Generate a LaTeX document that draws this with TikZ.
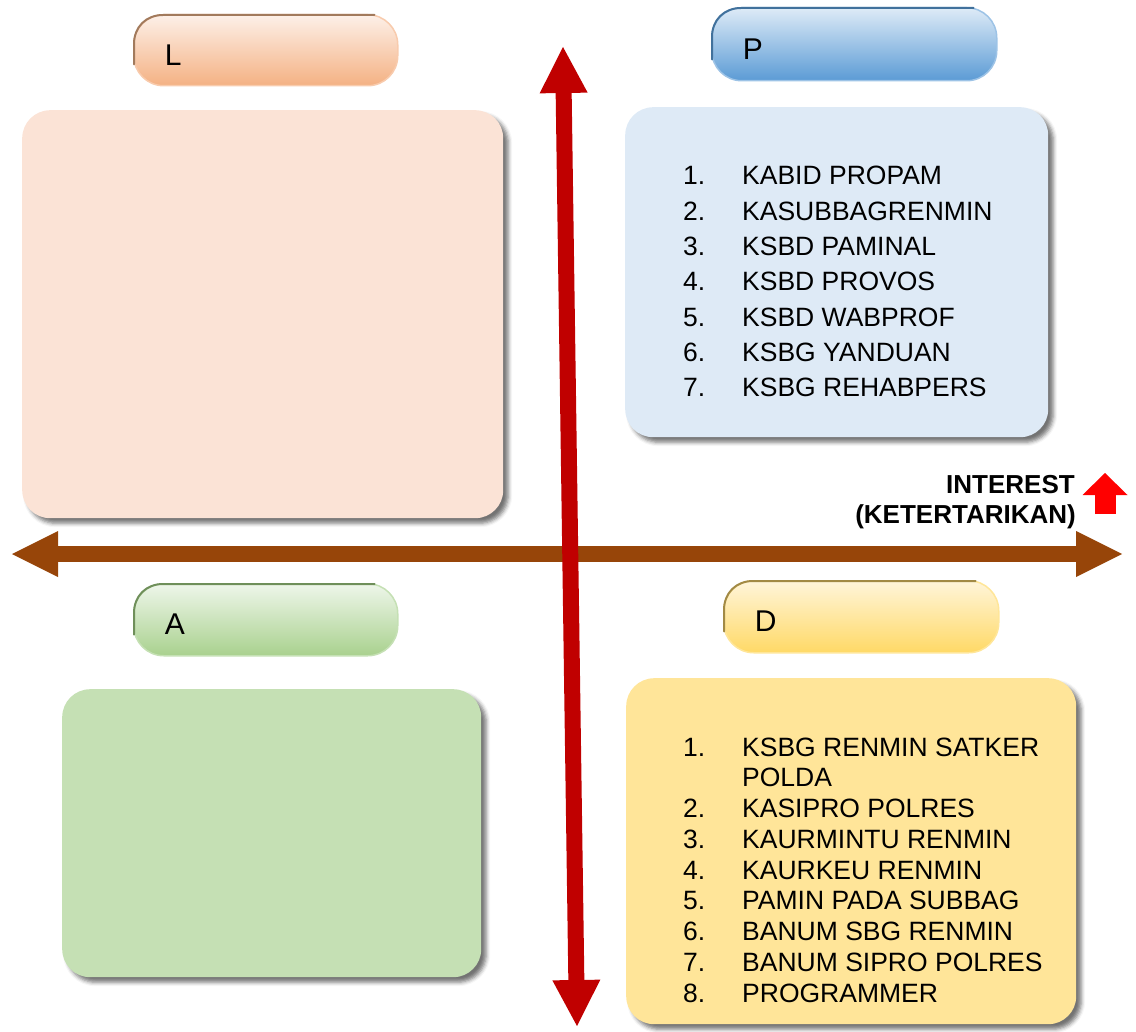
\documentclass[tikz,border=0pt]{standalone}
\usepackage{fontspec}
\setmainfont{Liberation Sans}
\usepackage{tikz}
\usetikzlibrary{positioning,shadows.blur,arrows.meta}

\definecolor{lfill}{HTML}{FBE3D6}
\definecolor{pfill}{HTML}{DEEAF6}
\definecolor{afill}{HTML}{C5E0B4}
\definecolor{dfill}{HTML}{FFE599}
\definecolor{ltop}{HTML}{FDF0E8}
\definecolor{lbot}{HTML}{F4B183}
\definecolor{llight}{HTML}{F8CBAD}
\definecolor{ldark}{HTML}{A27A5C}
\definecolor{ptop}{HTML}{DEEBF7}
\definecolor{pbot}{HTML}{5B9BD5}
\definecolor{plight}{HTML}{9DC3E6}
\definecolor{pdark}{HTML}{41719C}
\definecolor{atop}{HTML}{EEF6EA}
\definecolor{abot}{HTML}{A9D18E}
\definecolor{alight}{HTML}{C5E0B4}
\definecolor{adark}{HTML}{6F8F5A}
\definecolor{dtop}{HTML}{FFF5DA}
\definecolor{dbot}{HTML}{FFD966}
\definecolor{dlight}{HTML}{FFE699}
\definecolor{ddark}{HTML}{A28A45}
\definecolor{powerax}{HTML}{C00000}
\definecolor{interestax}{HTML}{974509}

\begin{document}
\begin{tikzpicture}[x=1pt,y=-1pt,
   box/.style={rounded corners=28pt, inner sep=0pt, anchor=north west,
      blur shadow={shadow xshift=5pt,shadow yshift=-5pt,shadow opacity=55,shadow blur radius=4pt}},
   tab/.style={rounded corners=30pt, anchor=north west, inner xsep=31pt, inner ysep=0pt,
      line width=1.5pt, align=left, text height=30pt, text depth=0pt,
      font=\fontsize{30}{36}\selectfont},
   tabedge/.style={line width=2pt, line cap=round},
   list/.style={anchor=base west, inner sep=0pt},
   hint/.style={anchor=base east, inner sep=0pt, font=\bfseries\fontsize{26}{30}\selectfont},
   axisI/.style={draw=interestax, line width=16pt, >={Triangle[width=46pt,length=46pt,line width=0pt]}, <->},
   axisP/.style={draw=powerax, line width=16pt, >={Triangle[width=48pt,length=46pt,line width=0pt]}, <->},
   uparrow/.style={draw=red, line width=21pt, -{Triangle[width=45pt,length=22pt,line width=0pt]}}]
   \useasboundingbox (0,0) rectangle (1136,1032);

   % quadrant boxes
   \node[box, fill=lfill, minimum width=481pt, minimum height=408pt] (boxL) at (22,110) {};
   \node[box, fill=pfill, minimum width=423pt, minimum height=330pt] (boxP) at (625,107) {};
   \node[box, fill=afill, minimum width=419pt, minimum height=288pt] (boxA) at (62,689) {};
   \node[box, fill=dfill, minimum width=450pt, minimum height=346pt] (boxD) at (626,678) {};

   % tabs
   \node[tab, top color=ltop, bottom color=lbot, draw=llight, text width=202pt, minimum height=71pt] (tabL) at (133,14) {L};
   \node[tab, top color=ptop, bottom color=pbot, draw=plight, text width=223pt, minimum height=73pt] (tabP) at (711,7) {P};
   \node[tab, top color=atop, bottom color=abot, draw=alight, text width=202pt, minimum height=72pt] (tabA) at (133,583) {A};
   \node[tab, top color=dtop, bottom color=dbot, draw=dlight, text width=213pt, minimum height=72pt] (tabD) at (723,580) {D};
   \foreach \t/\c in {tabL/ldark, tabP/pdark, tabA/adark, tabD/ddark}
      \draw[tabedge, \c] ([shift={(1pt,22pt)}]\t.south west) -- ([shift={(1pt,-30pt)}]\t.north west)
         .. controls ([shift={(1pt,-13pt)}]\t.north west) and ([shift={(13pt,-1pt)}]\t.north west) .. ([shift={(30pt,-1pt)}]\t.north west)
         -- ([shift={(-24pt,-1pt)}]\t.north east);

   % lists
   \node[list, font=\fontsize{26.5}{35.3}\selectfont] (listP) at (683,185) {%
      \begin{tabular}[t]{@{}p{59pt}@{}l@{}}
      1. & KABID PROPAM\\
      2. & KASUBBAGRENMIN\\
      3. & KSBD PAMINAL\\
      4. & KSBD PROVOS\\
      5. & KSBD WABPROF\\
      6. & KSBG YANDUAN\\
      7. & KSBG REHABPERS
      \end{tabular}};
   \node[list, font=\fontsize{26.5}{30.75}\selectfont] (listD) at (683,756) {%
      \begin{tabular}[t]{@{}p{59pt}@{}l@{}}
      1. & KSBG RENMIN SATKER\\
         & POLDA\\
      2. & KASIPRO POLRES\\
      3. & KAURMINTU RENMIN\\
      4. & KAURKEU RENMIN\\
      5. & PAMIN PADA SUBBAG\\
      6. & BANUM SBG RENMIN\\
      7. & BANUM SIPRO POLRES\\
      8. & PROGRAMMER
      \end{tabular}};

   % axes
   \coordinate (west) at (12,554);
   \coordinate (east) at (1122,554);
   \coordinate (north) at (563,47);
   \coordinate (south) at (577,1026);
   \draw[axisI] (west) -- (east);
   \draw[axisP] (south) -- (north);

   \node[hint] (interest) at (1075,493) {INTEREST};
   \node[hint] (interest2) at (1076,523) {(KETERTARIKAN)};
   \coordinate (up0) at (1105,514);
   \coordinate (up1) at (1105,473);
   \draw[uparrow] (up0) -- (up1);
\end{tikzpicture}
\end{document}
